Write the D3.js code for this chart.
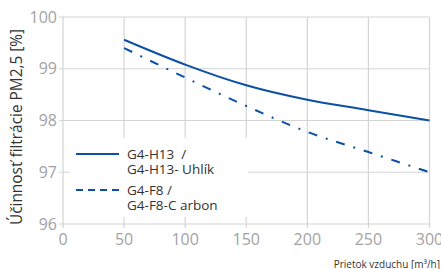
<!DOCTYPE html>
<html>
<head>
<meta charset="utf-8">
<script src="https://cdn.jsdelivr.net/npm/d3@7"></script>
<style>
  body { margin: 0; background: #fff; }
  svg { display: block; font-family: "Open Sans", sans-serif; }
</style>
</head>
<body>
<svg id="chart" width="441" height="269"></svg>
<script>
// data
var flow = [50, 100, 150, 200, 250, 300];
var h13 = [99.56, 99.08, 98.68, 98.4, 98.2, 98.0];
var f8 = [99.4, 98.83, 98.28, 97.78, 97.39, 97.0];
var xTicks = [0, 50, 100, 150, 200, 250, 300];
var yTicks = [96, 97, 98, 99, 100];
var seriesNames = [["G4-H13  /", "G4-H13- Uhlík"], ["G4-F8 /", "G4-F8-C arbon"]];

var blue = "#0b50a2", grid = "#d4d4d4", tickCol = "#a3a3a3";

var svg = d3.select("#chart");
var x = d3.scaleLinear().domain([0, 300]).range([63, 429.5]);
var y = d3.scaleLinear().domain([96, 100]).range([224, 17]);

// grid
svg.append("g").selectAll("line.v").data(xTicks).enter().append("line")
    .attr("x1", function(d){ return x(d); }).attr("x2", function(d){ return x(d); })
    .attr("y1", y(100)).attr("y2", y(96) + 4)
    .attr("stroke", grid).attr("stroke-width", 1.2);
svg.append("g").selectAll("line.h").data(yTicks).enter().append("line")
    .attr("x1", x(0) - 4).attr("x2", x(300))
    .attr("y1", function(d){ return y(d); }).attr("y2", function(d){ return y(d); })
    .attr("stroke", grid).attr("stroke-width", 1.2);

// tick labels
svg.append("g").selectAll("text").data(yTicks).enter().append("text")
    .attr("x", 57).attr("y", function(d){ return y(d); }).attr("dy", "0.35em")
    .attr("text-anchor", "end").attr("font-size", 16).attr("fill", tickCol)
    .text(function(d){ return d; });
svg.append("g").selectAll("text").data(xTicks).enter().append("text")
    .attr("x", function(d){ return x(d); }).attr("y", 245)
    .attr("text-anchor", "middle").attr("font-size", 16).attr("fill", tickCol)
    .text(function(d){ return d; });

// axis titles
svg.append("text")
    .attr("transform", "translate(22,127) rotate(-90)")
    .attr("text-anchor", "middle").attr("font-size", 15.4).attr("fill", "#333")
    .text("Účinnosť filtrácie PM2,5 [%]");
svg.append("text")
    .attr("x", 440).attr("y", 268).attr("text-anchor", "end")
    .attr("font-size", 10).attr("fill", "#333")
    .text("Prietok vzduchu [m³/h]");

// lines
var line = d3.line()
    .x(function(d, i){ return x(flow[i]); })
    .y(function(d){ return y(d); })
    .curve(d3.curveMonotoneX);

svg.append("path").datum(h13).attr("d", line)
    .attr("fill", "none").attr("stroke", blue).attr("stroke-width", 2);
svg.append("path").datum(f8).attr("d", line)
    .attr("fill", "none").attr("stroke", blue).attr("stroke-width", 2)
    .attr("stroke-dasharray", "9,9,2,9");

// legend
var lg = svg.append("g");
lg.append("rect").attr("x", 70).attr("y", 138).attr("width", 178).attr("height", 79)
    .attr("fill", "#fff");
var rows = [{y: 154, dash: null}, {y: 190, dash: "7,5"}];
rows.forEach(function(r, i){
    lg.append("line").attr("x1", 76).attr("x2", 119).attr("y1", r.y).attr("y2", r.y)
        .attr("stroke", blue).attr("stroke-width", 2)
        .attr("stroke-dasharray", r.dash);
    seriesNames[i].forEach(function(t, j){
        lg.append("text").attr("x", 127).attr("y", r.y + 5 + j * 15)
            .attr("font-size", 13.5).attr("fill", "#333")
            .attr("xml:space", "preserve")
            .text(t);
    });
});
</script>
</body>
</html>
